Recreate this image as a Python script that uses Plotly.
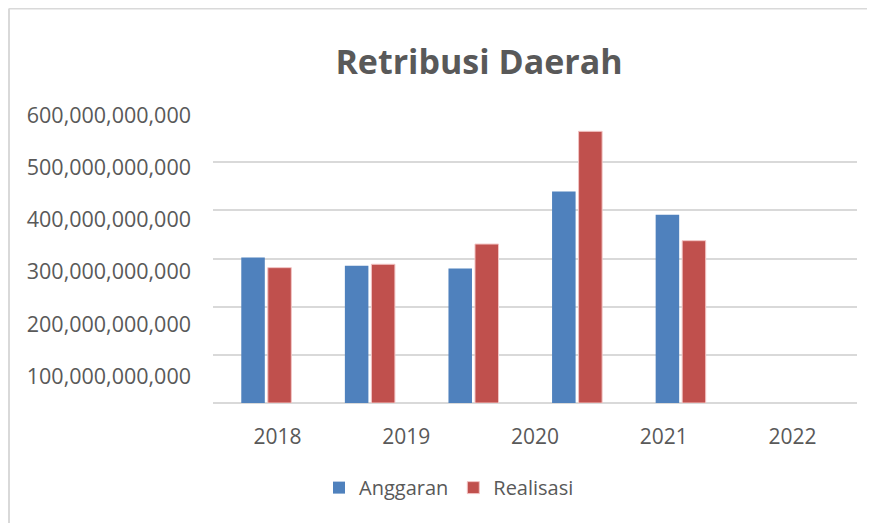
import plotly.graph_objects as go

years = ["2018", "2019", "2020", "2021", "2022"]
anggaran = [302e9, 285e9, 279e9, 439e9, 391e9]
realisasi = [281e9, 288e9, 330e9, 564e9, 337e9]
y_tickvals = [1e11, 2e11, 3e11, 4e11, 5e11, 6e11]
y_ticktext = ["100,000,000,000", "200,000,000,000", "300,000,000,000",
              "400,000,000,000", "500,000,000,000", "600,000,000,000"]

# page has an 8px body margin, so the figure is drawn 8px smaller / shifted
OFF = 8
W, H = 875 - OFF, 523 - OFF
L, R, T, B = 213 - OFF, 18, 114 - OFF, 119.7
pw, ph = W - L - R, H - T - B

TXT = "#595959"
GRID = "#d9d9d9"
FONT = "Open Sans"

fig = go.Figure()
fig.add_trace(go.Bar(name="Anggaran", x=years, y=anggaran,
                     marker=dict(color="#4F81BD", line=dict(width=0))))
fig.add_trace(go.Bar(name="Realisasi", x=years, y=realisasi,
                     marker=dict(color="#C0504D", line=dict(color="#f2c4c4", width=1))))
# invisible helper trace for the label axes
fig.add_trace(go.Scatter(x=years, y=anggaran, xaxis="x2", yaxis="y2",
                         mode="markers", marker=dict(opacity=0),
                         showlegend=False, hoverinfo="skip"))

# chart border (cropped at right / bottom)
bx = (9 - OFF - L) / pw
by = (H - B - (8.5 - OFF)) / ph
fig.add_shape(type="line", xref="paper", yref="paper", x0=bx, x1=bx, y0=-1, y1=by,
              line=dict(color=GRID, width=2), layer="below")
fig.add_shape(type="line", xref="paper", yref="paper", x0=bx, x1=1.2, y0=by, y1=by,
              line=dict(color=GRID, width=2), layer="below")

fig.update_layout(
    width=W, height=H,
    margin=dict(l=L, r=R, t=T, b=B, pad=0),
    paper_bgcolor="white", plot_bgcolor="white",
    font=dict(family=FONT, color=TXT, size=20),
    barmode="group", bargap=0.488, bargroupgap=0.113,
    title=dict(text="<b>Retribusi Daerah</b>", x=(479 - OFF) / W, xanchor="center",
               y=1 - (62 - OFF) / H, yanchor="middle", xref="container",
               yref="container", font=dict(size=34, color=TXT, family=FONT)),
    xaxis=dict(type="category", range=[-0.5145, 5.702], showticklabels=False,
               showgrid=False, zeroline=False, showline=False, ticks=""),
    xaxis2=dict(type="category", range=[-0.5, 4.5], overlaying="x", anchor="y",
                side="bottom", showgrid=False, zeroline=False, showline=False, ticks="",
                tickfont=dict(size=21, color=TXT, family=FONT), ticklabelstandoff=19),
    yaxis=dict(range=[0, 6e11], dtick=1e11, showticklabels=False, showgrid=True,
               gridcolor=GRID, gridwidth=1.5, zeroline=True, zerolinecolor=GRID,
               zerolinewidth=2, showline=False, ticks=""),
    yaxis2=dict(range=[49.2e9, 601.9e9], overlaying="y", anchor="x", side="left",
                tickvals=y_tickvals, ticktext=y_ticktext, showgrid=False,
                zeroline=False, showline=False, ticks="",
                tickfont=dict(size=21.5, color=TXT, family=FONT), ticklabelstandoff=21),
    legend=dict(orientation="h", x=(449 - 213) / pw, xanchor="center",
                y=(403.3 - 488) / ph, yanchor="middle",
                font=dict(size=20, color=TXT, family=FONT), itemwidth=30,
                bgcolor="rgba(0,0,0,0)"),
    showlegend=True,
)

fig.write_html("out.html")
